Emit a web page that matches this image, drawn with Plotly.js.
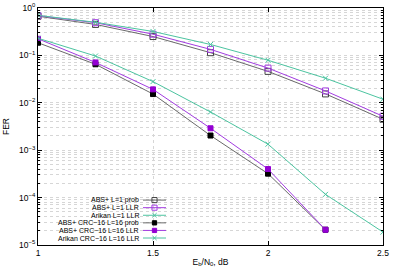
<!DOCTYPE html>
<html><head><meta charset="utf-8">
<script src="https://cdn.plot.ly/plotly-3.0.1.min.js"></script>
<style>html,body{margin:0;padding:0;background:#fff;}#chart{width:397px;height:278px;}</style>
</head><body><div id="chart"></div>
<script>
// ---- data ----
const snr = [1, 1.25, 1.5, 1.75, 2, 2.25, 2.5];
const absL1Prob   = [0.67, 0.45, 0.25, 0.114, 0.046, 0.0154, 0.0045];
const absL1Llr    = [0.69, 0.49, 0.28, 0.134, 0.054, 0.0178, 0.0052];
const arikanL1Llr = [0.70, 0.50, 0.32, 0.17, 0.079, 0.033, 0.0119];
const absCrcProb  = [0.185, 0.065, 0.0153, 0.00204, 0.00032, 0.000021];
const absCrcLlr   = [0.224, 0.071, 0.0192, 0.0029, 0.0004, 0.000021];
const arikanCrcLlr= [0.23, 0.097, 0.028, 0.0064, 0.00134, 0.000117, 0.0000187];
const seriesNames = ["ABS+ L=1 prob", "ABS+ L=1 LLR", "Arikan L=1 LLR",
  "ABS+ CRC\u221216 L=16 prob", "ABS+ CRC\u221216 L=16 LLR", "Arikan CRC\u221216 L=16 LLR"];
const xTickVals = [1, 1.5, 2, 2.5];
const xTickText = ["1", "1.5", "2", "2.5"];
const yTickVals = [1e-5, 1e-4, 1e-3, 1e-2, 1e-1, 1];
const yTickText = ["10<sup>\u22125</sup>", "10<sup>\u22124</sup>", "10<sup>\u22123</sup>",
  "10<sup>\u22122</sup>", "10<sup>\u22121</sup>", "10<sup>0</sup>"];

// ---- styles ----
const GRAY = "#6a6a6a", PURPLE = "#a23ce0", TEAL = "#4cc4a0";
const styles = [
  {color: GRAY,   symbol: "square-open", mcolor: "#444", size: 6},
  {color: PURPLE, symbol: "square-open", mcolor: PURPLE, size: 6},
  {color: TEAL,   symbol: "x-thin-open", mcolor: TEAL, size: 5},
  {color: GRAY,   symbol: "square",      mcolor: "#000", size: 5},
  {color: PURPLE, symbol: "square",      mcolor: "#9400d3", size: 5},
  {color: TEAL,   symbol: "x-thin-open", mcolor: TEAL, size: 5}
];
const ys = [absL1Prob, absL1Llr, arikanL1Llr, absCrcProb, absCrcLlr, arikanCrcLlr];

function mk(st, scale){
  return {symbol: st.symbol, size: st.size * (scale || 1), color: st.mcolor,
          line: {color: st.mcolor, width: 1}};
}

const traces = [];
ys.forEach((y, i) => {
  const st = styles[i];
  traces.push({x: snr.slice(0, y.length), y: y, type: "scatter", mode: "lines+markers",
    line: {color: st.color, width: 1}, marker: mk(st), showlegend: false, hoverinfo: "skip"});
});

// custom legend (symbols right of right-aligned text), on a pixel-like overlay axis
const PL = 38, PR = 383, PT = 7.5, PB = 245;
const legRows = [200, 207.6, 215.2, 222.8, 230.4, 238];
const annotations = [];
seriesNames.forEach((nm, i) => {
  const st = styles[i];
  traces.push({x: [143, 166], y: [legRows[i], legRows[i]], xaxis: "x2", yaxis: "y2",
    type: "scatter", mode: "lines", line: {color: st.color, width: 1},
    showlegend: false, hoverinfo: "skip"});
  traces.push({x: [154.5], y: [legRows[i]], xaxis: "x2", yaxis: "y2",
    type: "scatter", mode: "markers", marker: mk(st, 0.85), showlegend: false, hoverinfo: "skip"});
  annotations.push({xref: "x2", yref: "y2", x: 139.5, y: legRows[i], text: nm,
    showarrow: false, xanchor: "right", yanchor: "middle", borderpad: 0,
    font: {family: "Liberation Sans, Arial, sans-serif", size: 7, color: "#000"}});
});

const FONT = {family: "Liberation Sans, Arial, sans-serif", size: 8.5, color: "#000"};
const GRID = "#d6d6d6";
const pw = PR - PL, ph = PB - PT;
const layout = {
  width: 397, height: 278,
  margin: {l: PL, r: 397 - PR, t: PT, b: 278 - PB},
  paper_bgcolor: "#fff", plot_bgcolor: "#fff",
  font: FONT,
  showlegend: false,
  xaxis: {
    range: [1, 2.5], tickvals: xTickVals, ticktext: xTickText,
    showline: true, linecolor: "#000", linewidth: 1, mirror: "allticks",
    ticks: "inside", ticklen: 4, tickcolor: "#000", tickwidth: 1,
    showgrid: true, gridcolor: GRID, griddash: "dot", gridwidth: 1,
    zeroline: false, tickfont: FONT,
    title: {text: "E<sub>b</sub>/N<sub>0</sub>, dB", font: FONT, standoff: 1}
  },
  yaxis: {
    type: "log", range: [-5, 0], tickvals: yTickVals, ticktext: yTickText,
    showline: true, linecolor: "#000", linewidth: 1, mirror: "allticks",
    ticks: "inside", ticklen: 4, tickcolor: "#000", tickwidth: 1,
    showgrid: true, gridcolor: GRID, griddash: "dot", gridwidth: 1,
    minor: {dtick: "D1", showgrid: true, gridcolor: GRID, griddash: "dot", gridwidth: 1,
            ticks: "inside", ticklen: 2, tickcolor: "#000"},
    zeroline: false, tickfont: FONT,
    title: {text: "FER", font: FONT, standoff: 8}
  },
  xaxis2: {overlaying: "x", anchor: "y2", range: [PL, PR], visible: false, fixedrange: true},
  yaxis2: {overlaying: "y", anchor: "x2", range: [PB, PT], visible: false, fixedrange: true},
  shapes: [{type: "rect", xref: "paper", yref: "paper",
    x0: 0.5 / pw, x1: (172 - PL) / pw, y0: 0.5 / ph, y1: (PB - 194) / ph,
    fillcolor: "#fff", line: {width: 0}, layer: "between"}],
  annotations: annotations
};

Plotly.newPlot("chart", traces, layout, {staticPlot: true, displayModeBar: false});
</script></body></html>
